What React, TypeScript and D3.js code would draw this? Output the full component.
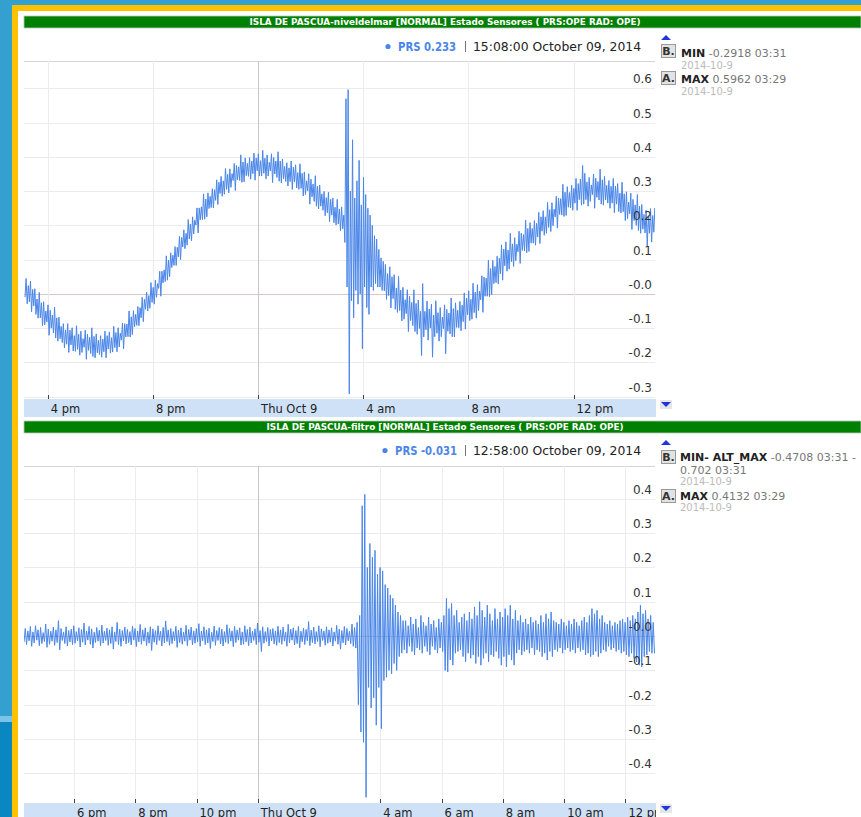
import React from "react";
import * as d3 from "d3";

const W = 861;
const H = 817;
const FONT = "Verdana, 'DejaVu Sans', sans-serif";

// ---------- Data: 5-minute min/max envelope in millimetres (lo at t, hi at t+2.5 min) ----------
const NIVEL_TITLE = "ISLA DE PASCUA-niveldelmar [NORMAL] Estado Sensores ( PRS:OPE RAD: OPE)";
const NIVEL_START = "2014-10-08T15:08:00";
const NIVEL_END = "2014-10-09T15:08:00";
const NIVEL_HI_MM = [
  45, 24, 37, 13, 15, -15, 4, -26, -23, -50,
  -32, -48, -62, -39, -70, -68, -95, -87, -105, -87,
  -106, -99, -122, -93, -118, -109, -131, -106, -118, -127,
  -99, -124, -117, -136, -122, -132, -109, -122, -111, -128,
  -95, -113, -99, -115, -85, -87, -88, -50, -67, -49,
  -60, -37, -40, -10, -16, 5, -5, 33, 19, 40,
  30, 66, 66, 70, 111, 99, 120, 113, 138, 136,
  168, 165, 187, 177, 217, 204, 225, 215, 251, 251,
  254, 292, 277, 295, 285, 307, 304, 333, 326, 343,
  330, 366, 349, 365, 351, 381, 375, 371, 406, 385,
  397, 381, 398, 388, 411, 397, 409, 389, 419, 396,
  406, 384, 409, 398, 388, 415, 388, 394, 372, 383,
  368, 388, 370, 377, 354, 380, 352, 356, 330, 351,
  335, 321, 345, 315, 318, 292, 299, 281, 297, 276,
  280, 253, 276, 248, 254, 230, 570, 596.2, 300, 450,
  280, 330, 390, 260, 340, 290, 250, 230, 200, 170,
  160, 130, 105, 95, 86, 59, 79, 50, 56, 17,
  51, 11, 19, -17, 12, -7, -25, 12, -28, -18,
  -51, 30, -51, -21, -44, -30, -62, -20, -55, -40,
  -68, -32, -45, -56, -12, -43, -26, -48, -22, -33,
  3, -12, 9, -16, 31, 5, 27, 8, 53, 49,
  46, 98, 74, 98, 80, 110, 104, 143, 131, 152,
  128, 177, 146, 164, 145, 183, 177, 173, 215, 191,
  208, 191, 214, 206, 238, 225, 243, 225, 267, 246,
  266, 247, 285, 280, 278, 320, 297, 313, 296, 317,
  308, 337, 322, 335, 375, 352, 327, 340, 318, 350,
  338, 328, 364, 333, 343, 317, 331, 314, 337, 315,
  322, 294, 326, 292, 298, 268, 294, 276, 260, 290,
  256, 261, 232, 244, 226, 249, 229, 250, 233,
];
const NIVEL_LO_MM = [
  -10, -29, -23, -52, -35, -60, -71, -70, -93, -90,
  -82, -121, -100, -114, -129, -138, -131, -142, -158, -147,
  -171, -149, -167, -168, -162, -179, -171, -156, -191, -165,
  -174, -183, -187, -172, -177, -185, -169, -187, -161, -173,
  -170, -157, -169, -155, -135, -160, -126, -125, -126, -119,
  -96, -92, -93, -70, -81, -45, -50, -42, -25, -30,
  -10, 16, -7, 32, 36, 40, 50, 77, 83, 83,
  108, 100, 137, 132, 142, 160, 155, 175, 201, 178,
  216, 217, 218, 225, 249, 252, 251, 273, 261, 293,
  285, 291, 305, 295, 311, 331, 302, 333, 331, 326,
  327, 345, 343, 335, 351, 332, 359, 344, 344, 352,
  336, 344, 359, 325, 350, 340, 329, 324, 336, 328,
  315, 328, 305, 327, 309, 305, 308, 286, 290, 301,
  262, 283, 270, 256, 248, 256, 244, 228, 237, 211,
  230, 208, 201, 204, 184, 190, 150, 20, -291.8, -20,
  -70, 10, -30, 0, -160, 20, -40, -60, 20, 10,
  30, 20, 20, 10, 9, -16, -5, -41, -14, -45,
  -54, -49, -79, -74, -58, -110, -78, -93, -110, -118,
  -101, -180, -126, -105, -135, -100, -185, -125, -115, -138,
  -125, -102, -175, -109, -117, -125, -126, -98, -99, -108,
  -81, -103, -61, -78, -74, -55, -71, -49, -17, -54,
  -7, -7, -8, -2, 30, 33, 29, 59, 40, 82,
  66, 72, 94, 80, 97, 123, 89, 127, 125, 120,
  124, 148, 148, 142, 166, 147, 183, 171, 177, 194,
  182, 199, 225, 192, 232, 230, 226, 229, 253, 251,
  244, 265, 244, 275, 259, 262, 275, 256, 270, 290,
  250, 282, 274, 262, 259, 274, 265, 250, 265, 237,
  262, 240, 236, 240, 214, 220, 234, 188, 214, 200,
  185, 177, 189, 178, 140, 177, 151, 180, 190,
];
const NIVEL_X_TICKS = ["2014-10-08T16:00:00", "2014-10-08T20:00:00", "2014-10-09T00:00:00", "2014-10-09T04:00:00", "2014-10-09T08:00:00", "2014-10-09T12:00:00"];
const NIVEL_X_LABELS = ["4 pm", "8 pm", "Thu Oct 9", "4 am", "8 am", "12 pm"];
const NIVEL_Y_TICKS = [0.6, 0.5, 0.4, 0.3, 0.2, 0.1, 0, -0.1, -0.2, -0.3];
const NIVEL_Y_LABELS = ["0.6", "0.5", "0.4", "0.3", "0.2", "0.1", "-0.0", "-0.1", "-0.2", "-0.3"];

const FILTRO_TITLE = "ISLA DE PASCUA-filtro [NORMAL] Estado Sensores ( PRS:OPE RAD: OPE)";
const FILTRO_START = "2014-10-08T16:22:00";
const FILTRO_END = "2014-10-09T12:58:00";
const FILTRO_HI_MM = [
  22, 15, 28, 12, 30, 18, 25, 10, 35, 20,
  14, 26, 18, 45, 22, 12, 27, 16, 20, 30,
  13, 24, 19, 38, 15, 28, 21, 11, 25, 17,
  32, 14, 23, 18, 27, 12, 40, 20, 16, 26,
  19, 13, 29, 22, 15, 34, 18, 24, 12, 27,
  21, 16, 30, 14, 25, 44, 18, 22, 13, 28,
  17, 24, 12, 31, 19, 26, 15, 22, 36, 14,
  27, 18, 23, 11, 29, 16, 25, 20, 13, 33,
  22, 15, 28, 18, 24, 12, 30, 19, 26, 14,
  21, 38, 16, 27, 13, 25, 19, 22, 15, 29,
  18, 26, 12, 34, 20, 24, 16, 28, 14, 23,
  19, 42, 17, 26, 13, 30, 21, 15, 27, 18,
  24, 12, 31, 20, 16, 28, 22, 14, 35, 25,
  40, 60, 380, 413.2, 200, 270, 230, 250, 180, 200,
  190, 150, 140, 120, 110, 90, 70, 60, 45,
  45, 30, 55, 35, 50, 25, 60, 40, 30, 55,
  35, 45, 25, 50, 40, 60, 110, 80, 95, 60,
  75, 40, 55, 65, 45, 70, 50, 85, 60, 100,
  75, 55, 90, 65, 45, 80, 50, 70, 55, 80,
  60, 90, 50, 75, 45, 60, 40, 50, 35, 55,
  40, 45, 35, 60, 40, 65, 50, 70, 45, 40,
  35, 50, 40, 30, 45, 35, 50, 40, 30, 45,
  55, 40, 60, 80, 65, 75, 50, 60, 40, 35,
  45, 30, 40, 35, 45, 50, 40, 55, 45, 60,
  50, 70, 90, 65, 75, 50, 60, 40, -31,
];
const FILTRO_LO_MM = [
  -18, -25, -14, -30, -20, -12, -28, -22, -16, -33,
  -24, -15, -27, -19, -40, -13, -22, -29, -17, -25,
  -21, -14, -32, -18, -26, -12, -24, -35, -19, -15,
  -28, -20, -13, -27, -22, -38, -16, -25, -30, -14,
  -23, -19, -26, -12, -31, -17, -24, -15, -28, -21,
  -42, -18, -25, -13, -29, -20, -16, -27, -22, -14,
  -33, -19, -24, -15, -28, -12, -26, -21, -17, -30,
  -14, -25, -20, -36, -16, -27, -13, -23, -29, -18,
  -22, -15, -31, -19, -12, -26, -24, -17, -28, -20,
  -13, -25, -18, -45, -21, -16, -29, -14, -23, -27,
  -19, -24, -15, -30, -20, -12, -26, -22, -34, -17,
  -25, -14, -28, -19, -23, -16, -31, -13, -27, -21,
  -18, -29, -15, -24, -38, -20, -26, -14, -22, -30,
  -35, -200, -280, -310, -470.8, -150, -210, -180, -260, -150,
  -270, -130, -120, -100, -110, -80, -100, -60, -50,
  -40, -50, -30, -45, -55, -35, -40, -50, -30, -45,
  -55, -30, -40, -50, -35, -45, -100, -105, -70, -85,
  -50, -45, -40, -60, -75, -50, -65, -55, -80, -60,
  -85, -65, -50, -75, -55, -60, -45, -65, -85, -60,
  -90, -55, -70, -85, -50, -40, -55, -45, -40, -50,
  -35, -55, -40, -45, -60, -50, -70, -45, -60, -40,
  -45, -35, -50, -40, -35, -45, -40, -50, -35, -45,
  -40, -55, -50, -60, -55, -45, -60, -50, -40, -45,
  -30, -40, -35, -45, -40, -50, -45, -55, -60, -50,
  -65, -75, -85, -90, -60, -55, -45, -50, -50,
];
const FILTRO_X_TICKS = ["2014-10-08T18:00:00", "2014-10-08T20:00:00", "2014-10-08T22:00:00", "2014-10-09T00:00:00", "2014-10-09T04:00:00", "2014-10-09T06:00:00", "2014-10-09T08:00:00", "2014-10-09T10:00:00", "2014-10-09T12:00:00"];
const FILTRO_X_LABELS = ["6 pm", "8 pm", "10 pm", "Thu Oct 9", "4 am", "6 am", "8 am", "10 am", "12 pm"];
const FILTRO_Y_TICKS = [0.4, 0.3, 0.2, 0.1, 0, -0.1, -0.2, -0.3, -0.4];
const FILTRO_Y_LABELS = ["0.4", "0.3", "0.2", "0.1", "-0.0", "-0.1", "-0.2", "-0.3", "-0.4"];

const MIN_MS = 60000;
const STEP_MIN = 5;
const LINE = "#4a86e8";

function buildSeries(start: string, lo: number[], hi: number[]): [Date, number][] {
  const t0 = new Date(start).getTime();
  const pts: [Date, number][] = [];
  lo.forEach((v, i) => {
    pts.push([new Date(t0 + i * STEP_MIN * MIN_MS), v / 1000]);
    pts.push([new Date(t0 + (i * STEP_MIN + STEP_MIN / 2) * MIN_MS), hi[i] / 1000]);
  });
  return pts;
}

type PanelCfg = {
  id: string;
  title: string;
  titleY: number;
  titleW: number;
  legendY: number;
  dotX: number;
  prs: string;
  prsX: number;
  prsW: number;
  stamp: string;
  top: number;
  bottom: number;
  tDomain: [Date, Date];
  xRange: [number, number];
  yDomain: [number, number];
  yTicks: number[];
  yLabels: string[];
  xTicks: string[];
  xLabels: string[];
  data: [Date, number][];
};

const PL = 24;
const PR = 655;

function Panel({ c }: { c: PanelCfg }) {
  const x = d3.scaleTime().domain(c.tDomain).range(c.xRange);
  const y = d3.scaleLinear().domain(c.yDomain).range([c.bottom, c.top]);
  const line = d3
    .line<[Date, number]>()
    .x((d) => x(d[0]))
    .y((d) => y(d[1]));
  const bandH = 18;
  return (
    <g>
      {/* title bar */}
      <rect x={PL} y={c.titleY} width={W - PL} height={12} fill="#008000" stroke="#b8c8b8" strokeWidth={0.8} />
      <text
        x={445}
        y={c.titleY + 9}
        textAnchor="middle"
        fill="#ffffff"
        fontFamily={FONT}
        fontWeight="bold"
        fontSize={8.5}
        textLength={c.titleW}
        lengthAdjust="spacingAndGlyphs"
      >
        {c.title}
      </text>
      {/* legend */}
      <circle cx={c.dotX} cy={c.legendY - 4.5} r={2.6} fill={LINE} />
      <text x={c.prsX} y={c.legendY} fill={LINE} fontFamily={FONT} fontSize={12} fontWeight={600} textLength={c.prsW} lengthAdjust="spacingAndGlyphs">
        {c.prs}
      </text>
      <line x1={465.5} x2={465.5} y1={c.legendY - 10} y2={c.legendY + 1} stroke="#777" />
      <text x={473} y={c.legendY} fill="#222" fontFamily={FONT} fontSize={12} textLength={168} lengthAdjust="spacingAndGlyphs">
        {c.stamp}
      </text>
      {/* plot frame */}
      <line x1={PL} x2={PR} y1={c.top + 0.5} y2={c.top + 0.5} stroke="#d4d4d4" />
      {/* horizontal grid */}
      {c.yTicks.map((v, i) => (
        <line
          key={"h" + i}
          x1={PL}
          x2={PR}
          y1={Math.round(y(v)) + 0.5}
          y2={Math.round(y(v)) + 0.5}
          stroke={v === 0 ? "#d9c6c6" : "#ebebf2"}
          strokeWidth={v === 0 ? 1.2 : 1}
        />
      ))}
      {/* vertical grid */}
      {c.xTicks.map((s, i) => {
        const xx = Math.round(x(new Date(s))) + 0.5;
        const mid = c.xLabels[i].startsWith("Thu");
        return <line key={"v" + i} x1={xx} x2={xx} y1={c.top} y2={c.bottom} stroke={mid ? "#c6c6c6" : "#ececf0"} />;
      })}
      {/* series */}
      <clipPath id={"clip-" + c.id}>
        <rect x={PL} y={c.top} width={PR - PL} height={c.bottom - c.top} />
      </clipPath>
      <path d={line(c.data) || ""} fill="none" stroke={LINE} strokeWidth={1} strokeLinejoin="round" clipPath={`url(#clip-${c.id})`} />
      {/* y labels */}
      {c.yTicks.map((v, i) => (
        <text key={"yl" + i} x={652} y={y(v) - 5} textAnchor="end" fill="#333" fontFamily={FONT} fontSize={12}>
          {c.yLabels[i]}
        </text>
      ))}
      {/* x axis band */}
      <clipPath id={"clipx-" + c.id}>
        <rect x={PL} y={c.bottom} width={PR + 1 - PL} height={bandH} />
      </clipPath>
      <rect x={PL} y={c.bottom} width={PR + 1 - PL} height={bandH} fill="#cfe1f6" />
      <g clipPath={`url(#clipx-${c.id})`}>
        {c.xTicks.map((s, i) => {
          const xx = x(new Date(s));
          return (
            <text key={"xl" + i} x={xx + 3} y={c.bottom + 13.5} fill="#222" fontFamily={FONT} fontSize={11.5}>
              {c.xLabels[i]}
            </text>
          );
        })}
      </g>
      {c.xTicks.map((s, i) => {
        const xx = Math.round(x(new Date(s))) + 0.5;
        return <line key={"t" + i} x1={xx} x2={xx} y1={c.bottom - 4} y2={c.bottom} stroke="#444" />;
      })}
      {/* arrows */}
      <path d={`M661,${c.titleY + 24} L671,${c.titleY + 24} L666,${c.titleY + 19} Z`} fill="#1f35e0" />
      <rect x={660} y={c.bottom + 1} width={12} height={9} fill="#e6e6e6" />
      <path d={`M661,${c.bottom + 3} L671,${c.bottom + 3} L666,${c.bottom + 8} Z`} fill="#1f35e0" />
    </g>
  );
}

function KeyBox({ x, y, letter }: { x: number; y: number; letter: string }) {
  return (
    <g>
      <rect x={x + 0.5} y={y + 0.5} width={14} height={13} fill="#e2e2e2" stroke="#9a9a9a" />
      <text x={x + 7.5} y={y + 11} textAnchor="middle" fill="#333" fontFamily={FONT} fontWeight="bold" fontSize={11}>
        {letter}
      </text>
    </g>
  );
}

export default function App() {
  const top: PanelCfg = {
    id: "nivel",
    title: NIVEL_TITLE,
    titleY: 16,
    titleW: 391,
    legendY: 51,
    dotX: 388,
    prs: "PRS 0.233",
    prsX: 398,
    prsW: 58,
    stamp: "15:08:00 October 09, 2014",
    top: 61,
    bottom: 399,
    tDomain: [new Date(NIVEL_START), new Date(NIVEL_END)],
    xRange: [25, 656],
    yDomain: [-0.307, 0.68],
    yTicks: NIVEL_Y_TICKS,
    yLabels: NIVEL_Y_LABELS,
    xTicks: NIVEL_X_TICKS,
    xLabels: NIVEL_X_LABELS,
    data: buildSeries(NIVEL_START, NIVEL_LO_MM, NIVEL_HI_MM),
  };
  const bot: PanelCfg = {
    id: "filtro",
    title: FILTRO_TITLE,
    titleY: 421,
    titleW: 357,
    legendY: 455,
    dotX: 385,
    prs: "PRS -0.031",
    prsX: 395,
    prsW: 62,
    stamp: "12:58:00 October 09, 2014",
    top: 466,
    bottom: 803,
    tDomain: [new Date(FILTRO_START), new Date(FILTRO_END)],
    xRange: [24, 655],
    yDomain: [-0.487, 0.496],
    yTicks: FILTRO_Y_TICKS,
    yLabels: FILTRO_Y_LABELS,
    xTicks: FILTRO_X_TICKS,
    xLabels: FILTRO_X_LABELS,
    data: buildSeries(FILTRO_START, FILTRO_LO_MM, FILTRO_HI_MM),
  };
  const gray = "#777";
  const light = "#bbb";
  return (
    <svg width={W} height={H} style={{ position: "absolute", left: 0, top: 0, background: "#fff" }}>
      {/* page frame */}
      <rect x={0} y={0} width={W} height={5} fill="#33a0cf" />
      <rect x={0} y={0} width={12} height={H} fill="#33a0cf" />
      <rect x={0} y={716} width={12} height={6} fill="#7cc4e6" />
      <rect x={0} y={722} width={12} height={H - 722} fill="#0a86c1" />
      <rect x={12} y={5} width={W - 12} height={6} fill="#ffc000" />
      <rect x={12} y={5} width={6} height={H - 5} fill="#ffc000" />

      <Panel c={top} />
      <Panel c={bot} />

      {/* right legend - top */}
      <KeyBox x={661} y={44} letter="B." />
      <text x={681} y={57} fontFamily={FONT} fontSize={11}>
        <tspan fontWeight="bold" fill="#222">MIN</tspan>
        <tspan fill={gray}> -0.2918 03:31</tspan>
      </text>
      <text x={681} y={69} fontFamily={FONT} fontSize={10} fill={light}>2014-10-9</text>
      <KeyBox x={661} y={71} letter="A." />
      <text x={681} y={83} fontFamily={FONT} fontSize={11}>
        <tspan fontWeight="bold" fill="#222">MAX</tspan>
        <tspan fill={gray}> 0.5962 03:29</tspan>
      </text>
      <text x={681} y={95} fontFamily={FONT} fontSize={10} fill={light}>2014-10-9</text>

      {/* right legend - bottom */}
      <KeyBox x={661} y={450} letter="B." />
      <text x={680} y={461} fontFamily={FONT} fontSize={11}>
        <tspan fontWeight="bold" fill="#222">MIN- ALT_MAX</tspan>
        <tspan fill={gray}> -0.4708 03:31 -</tspan>
      </text>
      <text x={680} y={474} fontFamily={FONT} fontSize={11} fill={gray}>0.702 03:31</text>
      <text x={680} y={485} fontFamily={FONT} fontSize={10} fill={light}>2014-10-9</text>
      <KeyBox x={661} y={489} letter="A." />
      <text x={680} y={500} fontFamily={FONT} fontSize={11}>
        <tspan fontWeight="bold" fill="#222">MAX</tspan>
        <tspan fill={gray}> 0.4132 03:29</tspan>
      </text>
      <text x={680} y={511} fontFamily={FONT} fontSize={10} fill={light}>2014-10-9</text>
    </svg>
  );
}
